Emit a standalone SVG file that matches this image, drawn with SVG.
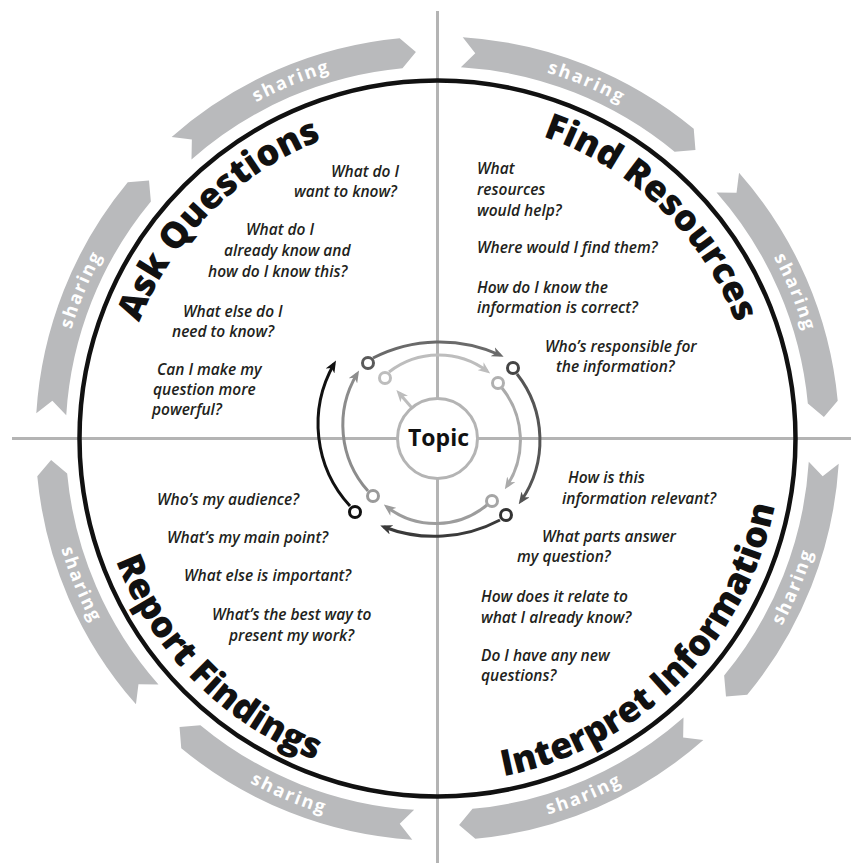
<svg xmlns="http://www.w3.org/2000/svg" xmlns:xlink="http://www.w3.org/1999/xlink" width="851" height="863" viewBox="0 0 851 863">
  <style>
    .axis{stroke:#b4b4b4;stroke-width:3;fill:none}
    .ribbon{fill:#b9babc}
    .share{font-family:"Open Sans","Noto Sans",sans-serif;font-weight:700;font-size:18px;fill:#ffffff;letter-spacing:2px}
    .title{font-family:"Open Sans","Noto Sans",sans-serif;font-weight:800;font-size:36px;fill:#111111}
    .q{font-family:"Open Sans","Noto Sans",sans-serif;font-style:italic;font-weight:600;font-size:15.5px;fill:#231f20}
    .loop{fill:none;stroke-width:3}
    .pt{fill:#ffffff;stroke-width:3}
    .topic{font-family:"Open Sans","Noto Sans",sans-serif;font-weight:700;font-size:23px;fill:#111111}
  </style>
  <defs>
    <!-- one clockwise ribbon arrow (3.6deg to 41.8deg), rotated round the ring -->
    <path id="ribbon" d="M838.71,463.74 A402,402 0 0 1 747.24,694.74 L726.00,696.45 L724.13,675.62 A372,372 0 0 0 808.77,461.86 L822.65,476.26 Z"/>
    <!-- text paths: clockwise through the top, anticlockwise through the bottom -->
    <path id="cw382" d="M55.5,438.5 A382,382 0 0 1 819.5,438.5 A382,382 0 0 1 55.5,438.5"/>
    <path id="ccw392" d="M45.5,438.5 A392,392 0 0 0 829.5,438.5 A392,392 0 0 0 45.5,438.5"/>
    <path id="cw320" d="M117.5,438.5 A320,320 0 0 1 757.5,438.5 A320,320 0 0 1 117.5,438.5"/>
    <path id="ccw344" d="M93.5,438.5 A344,344 0 0 0 781.5,438.5 A344,344 0 0 0 93.5,438.5"/>
    <marker id="m1" viewBox="0 0 12 10" markerWidth="12" markerHeight="10" refX="8" refY="5" markerUnits="userSpaceOnUse" orient="auto"><path d="M0,0 L12,5 L0,10 L3.5,5 Z" fill="#bdbdbd"/></marker>
    <marker id="m2" viewBox="0 0 12 10" markerWidth="12" markerHeight="10" refX="8" refY="5" markerUnits="userSpaceOnUse" orient="auto"><path d="M0,0 L12,5 L0,10 L3.5,5 Z" fill="#aaaaaa"/></marker>
    <marker id="m3" viewBox="0 0 12 10" markerWidth="12" markerHeight="10" refX="8" refY="5" markerUnits="userSpaceOnUse" orient="auto"><path d="M0,0 L12,5 L0,10 L3.5,5 Z" fill="#9c9c9c"/></marker>
    <marker id="m4" viewBox="0 0 12 10" markerWidth="12" markerHeight="10" refX="8" refY="5" markerUnits="userSpaceOnUse" orient="auto"><path d="M0,0 L12,5 L0,10 L3.5,5 Z" fill="#8c8c8c"/></marker>
    <marker id="m5" viewBox="0 0 12 10" markerWidth="12" markerHeight="10" refX="8" refY="5" markerUnits="userSpaceOnUse" orient="auto"><path d="M0,0 L12,5 L0,10 L3.5,5 Z" fill="#6a6a6a"/></marker>
    <marker id="m6" viewBox="0 0 12 10" markerWidth="12" markerHeight="10" refX="8" refY="5" markerUnits="userSpaceOnUse" orient="auto"><path d="M0,0 L12,5 L0,10 L3.5,5 Z" fill="#555555"/></marker>
    <marker id="m7" viewBox="0 0 12 10" markerWidth="12" markerHeight="10" refX="8" refY="5" markerUnits="userSpaceOnUse" orient="auto"><path d="M0,0 L12,5 L0,10 L3.5,5 Z" fill="#3a3a3a"/></marker>
    <marker id="m8" viewBox="0 0 12 10" markerWidth="12" markerHeight="10" refX="8" refY="5" markerUnits="userSpaceOnUse" orient="auto"><path d="M0,0 L12,5 L0,10 L3.5,5 Z" fill="#111111"/></marker>
  </defs>

  <rect width="851" height="863" fill="#ffffff"/>

  <!-- quadrant axes -->
  <g id="axes">
    <line class="axis" x1="437.5" y1="11" x2="437.5" y2="863"/>
    <line class="axis" x1="12" y1="438.5" x2="851" y2="438.5"/>
  </g>

  <!-- outer ring of "sharing" ribbons -->
  <g id="sharing-ring">
    <use href="#ribbon" class="ribbon"/>
    <use href="#ribbon" class="ribbon" transform="rotate(45 437.5 438.5)"/>
    <use href="#ribbon" class="ribbon" transform="rotate(90 437.5 438.5)"/>
    <use href="#ribbon" class="ribbon" transform="rotate(135 437.5 438.5)"/>
    <use href="#ribbon" class="ribbon" transform="rotate(180 437.5 438.5)"/>
    <use href="#ribbon" class="ribbon" transform="rotate(225 437.5 438.5)"/>
    <use href="#ribbon" class="ribbon" transform="rotate(270 437.5 438.5)"/>
    <use href="#ribbon" class="ribbon" transform="rotate(315 437.5 438.5)"/>
    <text class="share" text-anchor="middle"><textPath href="#cw382" startOffset="151.3">sharing</textPath></text>
    <text class="share" text-anchor="middle"><textPath href="#cw382" startOffset="451.4">sharing</textPath></text>
    <text class="share" text-anchor="middle"><textPath href="#cw382" startOffset="751.4">sharing</textPath></text>
    <text class="share" text-anchor="middle"><textPath href="#cw382" startOffset="1051.4">sharing</textPath></text>
    <text class="share" text-anchor="middle"><textPath href="#ccw392" startOffset="152.6">sharing</textPath></text>
    <text class="share" text-anchor="middle"><textPath href="#ccw392" startOffset="460.5">sharing</textPath></text>
    <text class="share" text-anchor="middle"><textPath href="#ccw392" startOffset="768.3">sharing</textPath></text>
    <text class="share" text-anchor="middle"><textPath href="#ccw392" startOffset="1076.2">sharing</textPath></text>
  </g>

  <!-- main circle -->
  <g id="main-circle">
    <circle cx="437.5" cy="438.5" r="358" fill="none" stroke="#111111" stroke-width="4.5"/>
  </g>

  <g id="ask-questions">
    <text class="title" text-anchor="middle"><textPath href="#cw320" startOffset="251.3">Ask Questions</textPath></text>
    <text class="q" x="331" y="177">What do I</text>
    <text class="q" x="294" y="197">want to know?</text>
    <text class="q" x="246" y="235">What do I</text>
    <text class="q" x="224" y="256">already know and</text>
    <text class="q" x="208" y="277">how do I know this?</text>
    <text class="q" x="183" y="317">What else do I</text>
    <text class="q" x="172" y="337">need to know?</text>
    <text class="q" x="157" y="375">Can I make my</text>
    <text class="q" x="153" y="395">question more</text>
    <text class="q" x="152" y="415">powerful?</text>
  </g>

  <g id="find-resources">
    <text class="title" text-anchor="middle"><textPath href="#cw320" startOffset="748.4">Find Resources</textPath></text>
    <text class="q" x="477" y="174">What</text>
    <text class="q" x="477" y="195">resources</text>
    <text class="q" x="477" y="216">would help?</text>
    <text class="q" x="477" y="253">Where would I find them?</text>
    <text class="q" x="477" y="293">How do I know the</text>
    <text class="q" x="477" y="313">information is correct?</text>
    <text class="q" x="545" y="352">Who’s responsible for</text>
    <text class="q" x="556" y="372">the information?</text>
  </g>

  <g id="interpret-information">
    <text class="title" text-anchor="middle"><textPath href="#ccw344" startOffset="809.6">Interpret Information</textPath></text>
    <text class="q" x="568" y="483">How is this</text>
    <text class="q" x="562" y="504">information relevant?</text>
    <text class="q" x="542" y="542">What parts answer</text>
    <text class="q" x="517" y="562">my question?</text>
    <text class="q" x="481" y="602">How does it relate to</text>
    <text class="q" x="481" y="623">what I already know?</text>
    <text class="q" x="481" y="661">Do I have any new</text>
    <text class="q" x="481" y="681">questions?</text>
  </g>

  <g id="report-findings">
    <text class="title" text-anchor="middle"><textPath href="#ccw344" startOffset="270.2">Report Findings</textPath></text>
    <text class="q" x="157" y="505">Who’s my audience?</text>
    <text class="q" x="167" y="543">What’s my main point?</text>
    <text class="q" x="184" y="581">What else is important?</text>
    <text class="q" x="212" y="620">What’s the best way to</text>
    <text class="q" x="229" y="641">present my work?</text>
  </g>

  <!-- spiral of steps round the topic -->
  <g id="connectors">
    <path class="loop" stroke="#bdbdbd" marker-end="url(#m1)" d="M412,408 L399,393"/>
    <path class="loop" stroke="#bdbdbd" marker-end="url(#m1)" d="M389,372 A81,81 0 0 1 487,371"/>
    <path class="loop" stroke="#aaaaaa" marker-end="url(#m2)" d="M502,388 A84,84 0 0 1 507,486"/>
    <path class="loop" stroke="#9c9c9c" marker-end="url(#m3)" d="M487,505 A80,80 0 0 1 387,507"/>
    <path class="loop" stroke="#8c8c8c" marker-end="url(#m4)" d="M368,491 A99,99 0 0 1 357,374"/>
    <path class="loop" stroke="#6a6a6a" marker-end="url(#m5)" d="M373,358 A146,146 0 0 1 500,355"/>
    <path class="loop" stroke="#555555" marker-end="url(#m6)" d="M517,374 A107,107 0 0 1 521,501"/>
    <path class="loop" stroke="#3a3a3a" marker-end="url(#m7)" d="M500,520 A140,140 0 0 1 384,527"/>
    <path class="loop" stroke="#111111" marker-end="url(#m8)" d="M350,506 A121,121 0 0 1 334,364"/>
  </g>

  <g id="cycle-points">
    <circle class="pt" cx="385" cy="378" r="5.5" stroke="#bdbdbd"/>
    <circle class="pt" cx="498" cy="383" r="5.5" stroke="#b0b0b0"/>
    <circle class="pt" cx="492" cy="501" r="5.5" stroke="#a5a5a5"/>
    <circle class="pt" cx="373" cy="496" r="5.5" stroke="#9a9a9a"/>
    <circle class="pt" cx="368" cy="363" r="5.5" stroke="#5a5a5a"/>
    <circle class="pt" cx="513" cy="368" r="5.5" stroke="#454545"/>
    <circle class="pt" cx="506" cy="515" r="5.5" stroke="#333333"/>
    <circle class="pt" cx="355" cy="512" r="5.5" stroke="#111111"/>
  </g>

  <g id="topic">
    <circle cx="437.5" cy="438.5" r="40" fill="#ffffff" stroke="#b4b4b4" stroke-width="3"/>
    <text class="topic" x="438.5" y="446" text-anchor="middle">Topic</text>
  </g>
</svg>
